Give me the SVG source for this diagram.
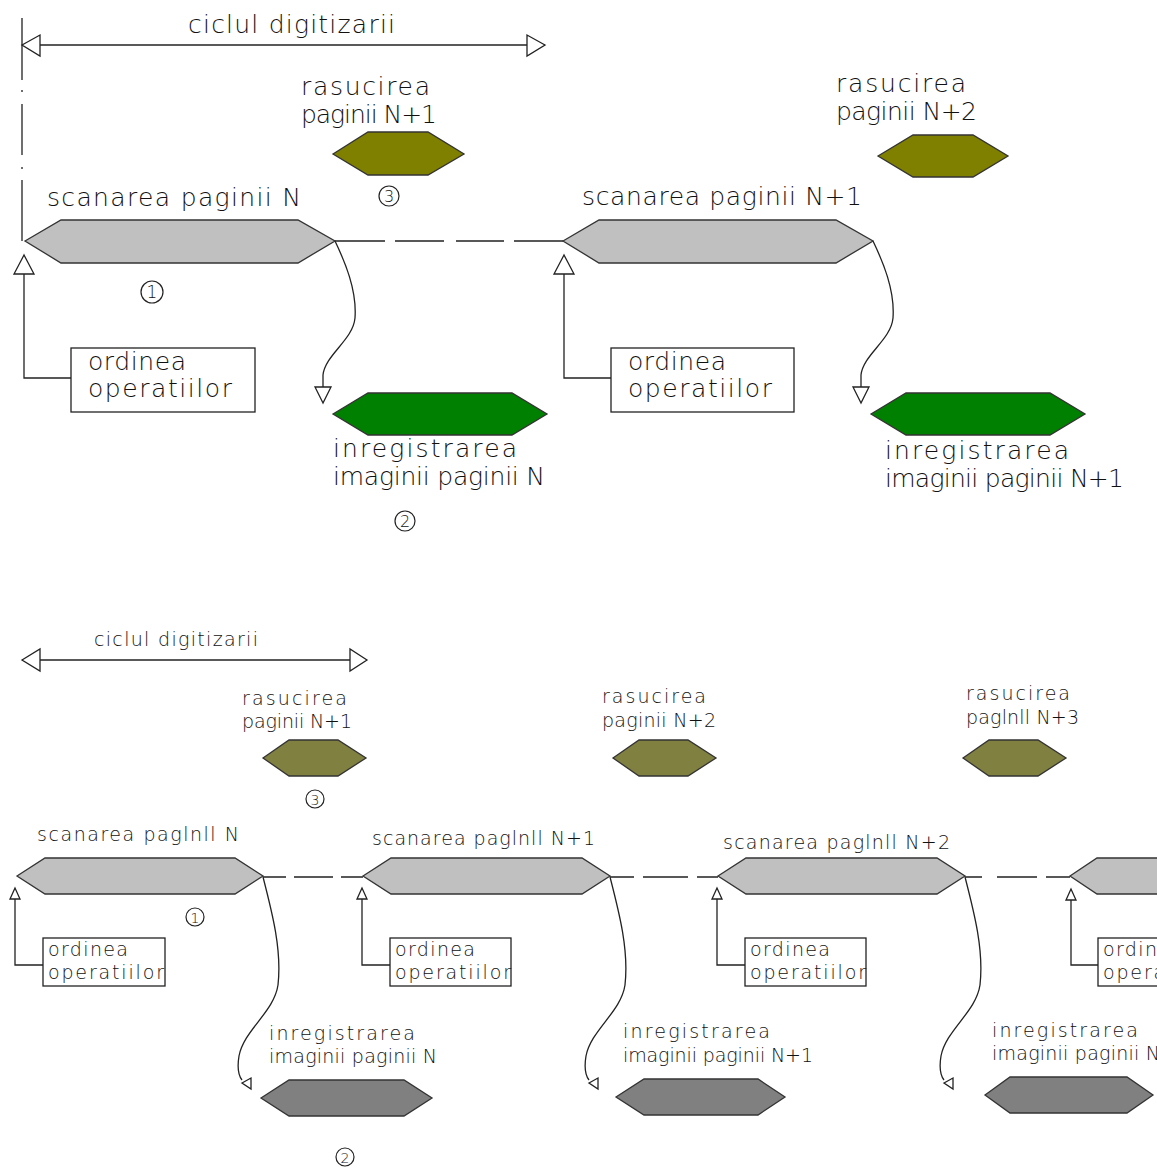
<svg xmlns="http://www.w3.org/2000/svg" width="1157" height="1169" viewBox="0 0 1157 1169">
<style>
  .t{font-family:"DejaVu Sans","Liberation Sans",sans-serif;font-weight:200;fill:#111}
  .big{font-size:25px}
  .sm{font-size:19px}
  .num{font-family:"DejaVu Sans","Liberation Sans",sans-serif;font-weight:200;fill:#111;text-anchor:middle}
  .ln{fill:none;stroke:#222;stroke-width:1.3}
  .tri{fill:#fff;stroke:#222;stroke-width:1.3}
  .box{fill:#fff;stroke:#222;stroke-width:1.3}
  .scan{fill:#c0c0c0;stroke:#333;stroke-width:1.3}
  .rot1{fill:#808000;stroke:#333;stroke-width:1.3}
  .rot2{fill:#808040;stroke:#333;stroke-width:1.3}
  .rec1{fill:#008000;stroke:#333;stroke-width:1.3}
  .rec2{fill:#808080;stroke:#333;stroke-width:1.3}
  .circ{fill:#fff;stroke:#222;stroke-width:1.2}
</style>

<!-- ================= TOP DIAGRAM ================= -->
<g id="top-cycle">
  <path class="ln" d="M22,18 V80 M22,90 V92 M22,104 V155 M22,167 V169 M22,180 V241"/>
  <line class="ln" x1="22" y1="45" x2="545" y2="45"/>
  <polygon class="tri" points="22,45 40,35 40,56"/>
  <polygon class="tri" points="545,45 527,35 527,56"/>
  <text class="t big" x="188" y="33" textLength="207" lengthAdjust="spacing">ciclul digitizarii</text>
</g>

<g id="connectors-top">
  <path class="ln" d="M335,241 H385 M395,241 H444 M456,241 H504 M514,241 H563"/>
  <path class="ln" d="M24,274 V378 H71"/>
  <polygon class="tri" points="24,255 14,274 34,274"/>
  <path class="ln" d="M564,274 V378 H611"/>
  <polygon class="tri" points="564,255 554,274 574,274"/>
  <path class="ln" d="M335,241 C345,262 357,290 355,318 C353,340 325,355 323,375 L323,387"/>
  <polygon class="tri" points="323,403 315,387 331,387"/>
  <path class="ln" d="M873,241 C883,262 895,290 893,318 C891,340 863,355 861,375 L861,387"/>
  <polygon class="tri" points="861,403 853,387 869,387"/>
</g>

<g id="rot-t1">
  <text class="t big" x="301" y="95" textLength="129" lengthAdjust="spacing">rasucirea</text>
  <text class="t big" x="301" y="123" textLength="136" lengthAdjust="spacing">paginii N+1</text>
  <polygon class="rot1" points="333,154 368,132 428,132 464,154 428,175 368,175"/>
  <circle class="circ" cx="389" cy="196" r="10"/>
  <text class="num" x="389" y="202" font-size="16">3</text>
</g>

<g id="scan-t1">
  <text class="t big" x="47" y="206" textLength="254" lengthAdjust="spacing">scanarea paginii N</text>
  <polygon class="scan" points="25,241 61,220 298,220 335,241 298,263 61,263"/>
  <circle class="circ" cx="152" cy="292" r="11"/>
  <text class="num" x="152" y="298" font-size="17">1</text>
</g>

<g id="order-t1">
  <rect class="box" x="71" y="348" width="184" height="64"/>
  <text class="t big" x="88" y="370" textLength="98" lengthAdjust="spacing">ordinea</text>
  <text class="t big" x="88" y="397" textLength="144" lengthAdjust="spacing">operatiilor</text>
</g>

<g id="rec-t1">
  <polygon class="rec1" points="333,414 368,393 512,393 547,414 512,435 368,435"/>
  <text class="t big" x="333" y="457" textLength="184" lengthAdjust="spacing">inregistrarea</text>
  <text class="t big" x="333" y="485" textLength="212" lengthAdjust="spacing">imaginii paginii N</text>
  <circle class="circ" cx="405" cy="521" r="10"/>
  <text class="num" x="405" y="527" font-size="16">2</text>
</g>

<g id="rot-t2">
  <text class="t big" x="836" y="92" textLength="130" lengthAdjust="spacing">rasucirea</text>
  <text class="t big" x="836" y="120" textLength="141" lengthAdjust="spacing">paginii N+2</text>
  <polygon class="rot1" points="878,156 913,135 973,135 1008,156 973,177 913,177"/>
</g>

<g id="scan-t2">
  <text class="t big" x="582" y="205" textLength="280" lengthAdjust="spacing">scanarea paginii N+1</text>
  <polygon class="scan" points="563,241 599,220 836,220 873,241 836,263 599,263"/>
</g>

<g id="order-t2">
  <rect class="box" x="611" y="348" width="183" height="64"/>
  <text class="t big" x="628" y="370" textLength="98" lengthAdjust="spacing">ordinea</text>
  <text class="t big" x="628" y="397" textLength="144" lengthAdjust="spacing">operatiilor</text>
</g>

<g id="rec-t2">
  <polygon class="rec1" points="871,414 906,393 1050,393 1085,414 1050,435 906,435"/>
  <text class="t big" x="885" y="459" textLength="184" lengthAdjust="spacing">inregistrarea</text>
  <text class="t big" x="885" y="487" textLength="239" lengthAdjust="spacing">imaginii paginii N+1</text>
</g>

<!-- ================= BOTTOM DIAGRAM ================= -->
<g id="bottom-cycle">
  <line class="ln" x1="22" y1="660" x2="367" y2="660"/>
  <polygon class="tri" points="22,660 40,649 40,671"/>
  <polygon class="tri" points="367,660 350,649 350,671"/>
  <text class="t sm" x="94" y="646" textLength="164" lengthAdjust="spacing">ciclul digitizarii</text>
</g>

<g id="connectors-bottom">
  <path class="ln" d="M263,877 H286 M294,877 H333 M341,877 H363"/>
  <path class="ln" d="M610,877 H634 M643,877 H688 M697,877 H718"/>
  <path class="ln" d="M965,877 H982 M997,877 H1037 M1046,877 H1070"/>
  <path class="ln" d="M15,899 V965 H43"/>
  <polygon class="tri" points="15,888 10,899 20,899"/>
  <path class="ln" d="M362,899 V965 H390"/>
  <polygon class="tri" points="362,888 357,899 367,899"/>
  <path class="ln" d="M717,899 V965 H745"/>
  <polygon class="tri" points="717,888 712,899 722,899"/>
  <path class="ln" d="M1071,900 V965 H1098"/>
  <polygon class="tri" points="1071,889 1066,900 1076,900"/>
  <path class="ln" d="M263,877 C272,912 282,950 278,985 C274,1012 244,1030 239,1056 C237,1068 239,1076 242,1080"/>
  <polygon class="tri" points="242,1083 251,1078 251,1089"/>
  <path class="ln" d="M610,877 C619,912 629,950 625,985 C621,1012 591,1030 586,1056 C584,1068 586,1076 589,1080"/>
  <polygon class="tri" points="589,1083 598,1078 598,1089"/>
  <path class="ln" d="M965,877 C974,912 984,950 980,985 C976,1012 946,1030 941,1056 C939,1068 941,1076 944,1080"/>
  <polygon class="tri" points="944,1083 953,1078 953,1089"/>
</g>

<g id="rot-b1">
  <text class="t sm" x="242" y="705" textLength="105" lengthAdjust="spacing">rasucirea</text>
  <text class="t sm" x="242" y="728" textLength="110" lengthAdjust="spacing">paginii N+1</text>
  <polygon class="rot2" points="263,758 289,740 338,740 366,758 338,776 289,776"/>
  <circle class="circ" cx="315" cy="799" r="9"/>
  <text class="num" x="315" y="804.5" font-size="14">3</text>
</g>

<g id="scan-b1">
  <text class="t sm" x="37" y="841" textLength="202" lengthAdjust="spacing">scanarea paglnll N</text>
  <polygon class="scan" points="17,876 45,858 235,858 263,876 235,894 45,894"/>
  <circle class="circ" cx="195" cy="917" r="9"/>
  <text class="num" x="195" y="922.5" font-size="14">1</text>
</g>

<g id="order-b1">
  <rect class="box" x="43" y="938" width="122" height="48"/>
  <text class="t sm" x="48" y="956" textLength="80" lengthAdjust="spacing">ordinea</text>
  <text class="t sm" x="48" y="979" textLength="116" lengthAdjust="spacing">operatiilor</text>
</g>

<g id="rec-b1">
  <text class="t sm" x="269" y="1040" textLength="146" lengthAdjust="spacing">inregistrarea</text>
  <text class="t sm" x="269" y="1063" textLength="168" lengthAdjust="spacing">imaginii paginii N</text>
  <polygon class="rec2" points="261,1098 289,1080 404,1080 432,1098 404,1116 289,1116"/>
  <circle class="circ" cx="345" cy="1157" r="9"/>
  <text class="num" x="345" y="1162.5" font-size="14">2</text>
</g>

<g id="rot-b2">
  <text class="t sm" x="602" y="703" textLength="104" lengthAdjust="spacing">rasucirea</text>
  <text class="t sm" x="602" y="727" textLength="114" lengthAdjust="spacing">paginii N+2</text>
  <polygon class="rot2" points="613,758 639,740 688,740 716,758 688,776 639,776"/>
</g>

<g id="scan-b2">
  <text class="t sm" x="372" y="845" textLength="223" lengthAdjust="spacing">scanarea paglnll N+1</text>
  <polygon class="scan" points="363,876 391,858 582,858 610,876 582,894 391,894"/>
</g>

<g id="order-b2">
  <rect class="box" x="390" y="938" width="121" height="48"/>
  <text class="t sm" x="395" y="956" textLength="80" lengthAdjust="spacing">ordinea</text>
  <text class="t sm" x="395" y="979" textLength="116" lengthAdjust="spacing">operatiilor</text>
</g>

<g id="rec-b2">
  <text class="t sm" x="623" y="1038" textLength="147" lengthAdjust="spacing">inregistrarea</text>
  <text class="t sm" x="623" y="1062" textLength="190" lengthAdjust="spacing">imaginii paginii N+1</text>
  <polygon class="rec2" points="616,1097 644,1079 758,1079 785,1097 758,1115 644,1115"/>
</g>

<g id="rot-b3">
  <text class="t sm" x="966" y="700" textLength="104" lengthAdjust="spacing">rasucirea</text>
  <text class="t sm" x="966" y="724" textLength="113" lengthAdjust="spacing">paglnll N+3</text>
  <polygon class="rot2" points="963,758 989,740 1038,740 1066,758 1038,776 989,776"/>
</g>

<g id="scan-b3">
  <text class="t sm" x="723" y="849" textLength="227" lengthAdjust="spacing">scanarea paglnll N+2</text>
  <polygon class="scan" points="718,876 746,858 937,858 965,876 937,894 746,894"/>
</g>

<g id="order-b3">
  <rect class="box" x="745" y="938" width="121" height="48"/>
  <text class="t sm" x="750" y="956" textLength="80" lengthAdjust="spacing">ordinea</text>
  <text class="t sm" x="750" y="979" textLength="116" lengthAdjust="spacing">operatiilor</text>
</g>

<g id="rec-b3">
  <text class="t sm" x="992" y="1037" textLength="146" lengthAdjust="spacing">inregistrarea</text>
  <text class="t sm" x="992" y="1060" textLength="168" lengthAdjust="spacing">imaginii paginii N</text>
  <polygon class="rec2" points="985,1095 1010,1077 1127,1077 1153,1095 1127,1113 1010,1113"/>
</g>

<g id="scan-b4">
  <polygon class="scan" points="1070,876 1097,858 1300,858 1300,894 1097,894"/>
</g>

<g id="order-b4">
  <rect class="box" x="1098" y="938" width="121" height="48"/>
  <text class="t sm" x="1103" y="956" textLength="80" lengthAdjust="spacing">ordinea</text>
  <text class="t sm" x="1103" y="979" textLength="116" lengthAdjust="spacing">operatiilor</text>
</g>
</svg>
